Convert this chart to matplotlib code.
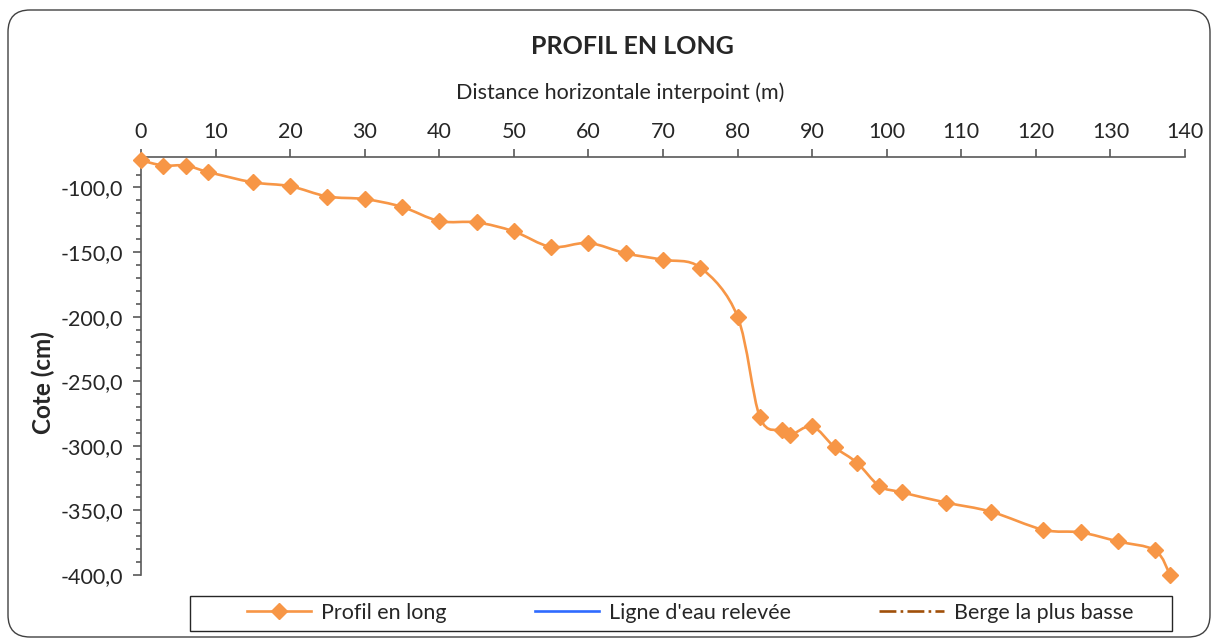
import matplotlib
matplotlib.use("Agg")
import matplotlib.pyplot as plt
from matplotlib.path import Path
from matplotlib.patches import PathPatch, FancyBboxPatch, Rectangle
from matplotlib.lines import Line2D
from matplotlib.ticker import MultipleLocator, FuncFormatter

plt.rcParams['font.family'] = ['Lato', 'DejaVu Sans']

# Distance horizontale (m) et cote (cm)
distance = [0, 3, 6, 9, 15, 20, 25, 30, 35, 40, 45, 50, 55, 60, 65, 70, 75,
            80, 83, 86, 87, 90, 93, 96, 99, 102, 108, 114, 121, 126, 131,
            136, 138]
cote = [-79, -83, -83, -88, -96, -99, -107, -109, -115, -126, -127, -134,
        -146, -143, -151, -156, -162, -200, -278, -288, -292, -285, -301,
        -313, -331, -336, -344, -351, -365, -367, -374, -381, -400]

# series without values, present only in the legend
ligne_eau_x, ligne_eau_y = [], []
berge_x, berge_y = [], []

orange = '#F79646'
blue = '#2F6BFF'
brown = '#A0500A'
axis_col = '#595959'
txt_col = '#262626'

fig = plt.figure(figsize=(12.13, 6.39), dpi=100)
ax = fig.add_axes([141/1213, 1 - 575/639, (1185 - 141)/1213, (575 - 157)/639])


def smooth_path(xs, ys):
    # Excel-like smoothed line: cubic bezier through every point
    pts = list(zip(xs, ys))
    verts = [pts[0]]
    codes = [Path.MOVETO]
    n = len(pts)
    for i in range(n - 1):
        p0 = pts[i - 1] if i > 0 else pts[i]
        p1 = pts[i]
        p2 = pts[i + 1]
        p3 = pts[i + 2] if i + 2 < n else pts[i + 1]
        c1 = (p1[0] + (p2[0] - p0[0]) / 6, p1[1] + (p2[1] - p0[1]) / 6)
        c2 = (p2[0] - (p3[0] - p1[0]) / 6, p2[1] - (p3[1] - p1[1]) / 6)
        verts += [c1, c2, p2]
        codes += [Path.CURVE4] * 3
    return Path(verts, codes)


ax.add_patch(PathPatch(smooth_path(distance, cote), facecolor='none',
                       edgecolor=orange, lw=1.9, zorder=3, clip_on=False))
ax.plot(distance, cote, ls='none', marker='D', ms=8.5, color=orange,
        zorder=4, clip_on=False)
ax.plot(ligne_eau_x, ligne_eau_y, color=blue, lw=1.9)
ax.plot(berge_x, berge_y, color=brown, lw=1.9, ls='-.')

ax.set_xlim(0, 140)
ax.set_ylim(-400, -76.4)
ax.xaxis.set_major_locator(MultipleLocator(10))
ax.yaxis.set_major_locator(MultipleLocator(50))
ax.yaxis.set_minor_locator(MultipleLocator(10))
ax.yaxis.set_major_formatter(FuncFormatter(lambda v, p: f"{v:.1f}".replace('.', ',')))

ax.xaxis.tick_top()
ax.xaxis.set_label_position('top')
for s in ['right', 'bottom']:
    ax.spines[s].set_visible(False)
for s in ['left', 'top']:
    ax.spines[s].set_color(axis_col)
    ax.spines[s].set_linewidth(1.2)
ax.tick_params(axis='both', which='major', length=5.8, width=1.2, color=axis_col,
               labelsize=15.5, labelcolor=txt_col)
ax.tick_params(axis='x', pad=5)
ax.tick_params(axis='y', pad=7)
ax.tick_params(axis='y', which='minor', length=3.6, width=1.2, color=axis_col)

xl = ax.set_xlabel("Distance horizontale interpoint (m)", fontsize=15.5,
                   color=txt_col)
xl.set_va('center')
ax.xaxis.set_label_coords((620 - 141)/1044, (575 - 93)/418)
ax.set_ylabel("Cote (cm)", fontsize=17.5, fontweight='bold', color=txt_col)
ax.yaxis.set_label_coords(-0.082, 0.46)

fig.text(632/1213, 1 - 46/639, "PROFIL EN LONG", ha='center', va='center',
         fontsize=18, fontweight='bold', color=txt_col)

handles = [
    Line2D([], [], color=orange, lw=1.9, marker='D', ms=8.5),
    Line2D([], [], color=blue, lw=1.9),
    Line2D([], [], color=brown, lw=1.9, ls='-.'),
]
labels = ["Profil en long", "Ligne d'eau relevée", "Berge la plus basse"]
leg = fig.legend(handles, labels, ncol=3, loc='center',
                 bbox_to_anchor=(690/1213, 1 - 613/639),
                 fontsize=15.5, handlelength=3.0, handletextpad=0.45,
                 columnspacing=4.1, frameon=False, borderaxespad=0)
for t in leg.get_texts():
    t.set_color(txt_col)

# legend frame spans nearly the whole plot width
fig.patches.append(Rectangle((190/1213, 1 - 631/639), (1172 - 190)/1213, 35/639,
                             transform=fig.transFigure, fill=False,
                             edgecolor=txt_col, lw=1.0))

# rounded chart border
fig.patches.append(FancyBboxPatch((0.08, 0.02), 12.02, 6.27,
                                  boxstyle='round,pad=0,rounding_size=0.22',
                                  transform=fig.dpi_scale_trans, fill=False,
                                  edgecolor='#404040', lw=1.0))

fig.savefig("out.png", dpi=100)
